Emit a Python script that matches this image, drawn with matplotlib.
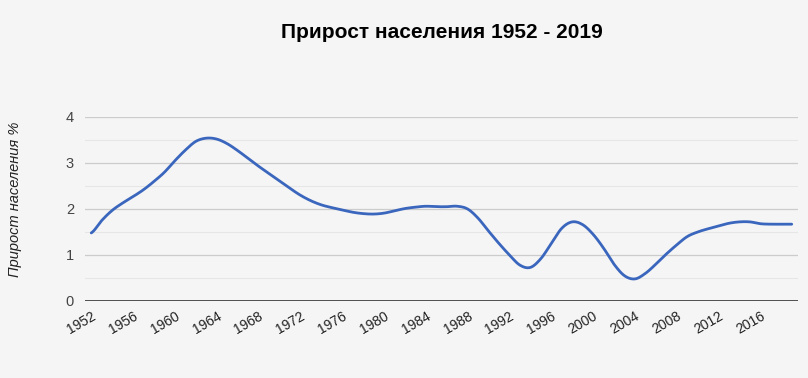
import numpy as np
import matplotlib.pyplot as plt

years = list(range(1952, 2020))
growth = [1.48, 1.75, 1.97, 2.13, 2.27, 2.42, 2.60, 2.80, 3.05, 3.28,
          3.47, 3.54, 3.52, 3.42, 3.27, 3.10, 2.93, 2.77, 2.61, 2.45,
          2.30, 2.18, 2.09, 2.03, 1.98, 1.93, 1.90, 1.89, 1.91, 1.96,
          2.01, 2.04, 2.06, 2.05, 2.05, 2.06, 2.00, 1.80, 1.52, 1.25,
          1.00, 0.78, 0.73, 0.92, 1.25, 1.58, 1.72, 1.66, 1.45, 1.15,
          0.80, 0.55, 0.48, 0.60, 0.80, 1.02, 1.22, 1.40, 1.50, 1.57,
          1.63, 1.69, 1.72, 1.72, 1.68, 1.67, 1.67, 1.67]
xticks = list(range(1952, 2020, 4))
yticks = [0, 1, 2, 3, 4]
title = "Прирост населения 1952 - 2019"
ylabel = "Прирост населения %"

plt.rcParams['font.family'] = ['Liberation Sans', 'DejaVu Sans']
bg = '#f5f5f5'

# smooth line like the chart's curved rendering (Catmull-Rom between points)
x = np.array(years, dtype=float)
y = np.array(growth)
xs, ys = [], []
for i in range(len(x) - 1):
    p0 = y[max(i - 1, 0)]
    p1, p2 = y[i], y[i + 1]
    p3 = y[min(i + 2, len(y) - 1)]
    t = np.linspace(0, 1, 12, endpoint=False)
    yy = 0.5 * ((2 * p1) + (-p0 + p2) * t + (2 * p0 - 5 * p1 + 4 * p2 - p3) * t ** 2
                + (-p0 + 3 * p1 - 3 * p2 + p3) * t ** 3)
    xs.extend(x[i] + t)
    ys.extend(yy)
xs.append(x[-1])
ys.append(y[-1])

fig = plt.figure(figsize=(8.08, 3.78), dpi=100, facecolor=bg)
ax = fig.add_axes([85 / 808, 77 / 378, 713 / 808, 184 / 378], facecolor=bg)

for v in np.arange(0.5, 4.0, 1.0):
    ax.axhline(v, color='#e6e6e6', lw=0.8, zorder=0)
for v in yticks[1:]:
    ax.axhline(v, color='#cccccc', lw=0.9, zorder=0)
ax.axhline(0, color='#333333', lw=1.2, zorder=1)

ax.plot(xs, ys, color='#3a66bd', lw=2, solid_capstyle='round', zorder=3)

ax.set_xlim(1951.4, 2019.6)
ax.set_ylim(0, 4)
ax.set_xticks(xticks)
ax.set_xticklabels([str(v) for v in xticks], rotation=30, ha='right',
                   rotation_mode='anchor', fontsize=10, color='#222222')
ax.set_yticks(yticks)
ax.set_yticklabels([str(v) for v in yticks], fontsize=10.5, color='#444444')
ax.tick_params(length=0, pad=8)
ax.tick_params(axis='x', pad=6)
for s in ax.spines.values():
    s.set_visible(False)

ax.set_title(title, fontsize=15, fontweight='bold', color='#000000', pad=57)
fig.text(15 / 808, 0.5 - 10 / 378, ylabel, rotation=90, fontsize=10.5, style='italic',
         color='#222222', ha='center', va='center')

fig.savefig('out.png', dpi=100, facecolor=bg)
